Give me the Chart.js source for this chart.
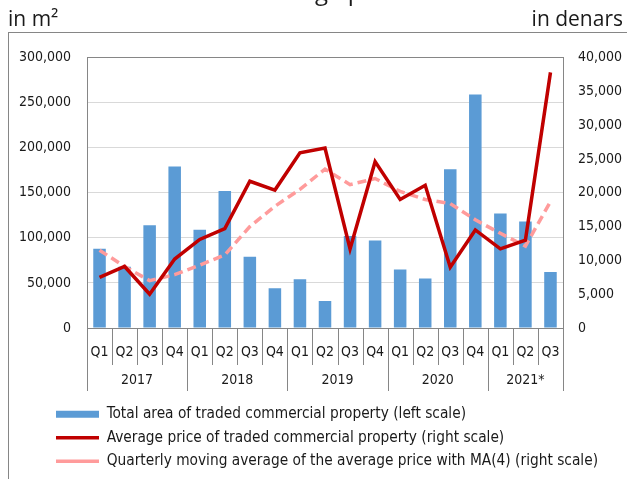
<!DOCTYPE html>
<html>
<head>
<meta charset="utf-8">
<title>Commercial property</title>
<script src="https://cdn.jsdelivr.net/npm/chart.js@4.4.1/dist/chart.umd.min.js"></script>
<style>
	html, body { margin: 0; padding: 0; background: #fff; }
	#wrap { position: relative; width: 627px; height: 479px; }
</style>
</head>
<body>
<div id="wrap"><canvas id="propertyChart"></canvas></div>
<script>
// Quarterly data, 2017 Q1 - 2021 Q3
const quarters = [
	'Q1', 'Q2', 'Q3', 'Q4',
	'Q1', 'Q2', 'Q3', 'Q4',
	'Q1', 'Q2', 'Q3', 'Q4',
	'Q1', 'Q2', 'Q3', 'Q4',
	'Q1', 'Q2', 'Q3',
];
const years = [ '2017', '2018', '2019', '2020', '2021*' ];
const quartersPerYear = [ 4, 4, 4, 4, 3 ];

// Total area (m2), left scale
const tradedArea = [
	88000, 68000, 114000, 179000,
	109000, 152000, 79000, 44000,
	54000, 30000, 102000, 97000,
	65000, 55000, 176000, 259000,
	127000, 118000, 62000,
];
// Average price (denars), right scale
const averagePrice = [
	7500, 9100, 5000, 10200,
	13100, 14700, 21700, 20400,
	25900, 26600, 11700, 24600,
	19000, 21100, 9000, 14500,
	11700, 13000, 37800,
];
// MA(4) of the average price, right scale
const movingAverage = [
	11500, 9100, 7000, 7900,
	9300, 10800, 15000, 18000,
	20500, 23500, 21200, 22100,
	20200, 19000, 18400, 16000,
	14000, 12100, 18700,
];

const leftTicks = [ 0, 50000, 100000, 150000, 200000, 250000, 300000 ];
const rightTicks = [ 0, 5000, 10000, 15000, 20000, 25000, 30000, 35000, 40000 ];

const fontFamily = '"DejaVu Sans Condensed", "DejaVu Sans", sans-serif';
const tickFont = { family: fontFamily, size: 14 };
const legendFont = { family: fontFamily, size: 15.3 };
const axisGray = '#868686';
const textColor = '#1a1a1a';

function fmt( v ) {
	return v.toLocaleString( 'en-US' );
}

// Frame, unit captions and the two-level category axis
const decorations = {
	id: 'decorations',
	afterLayout( chart ) {
		// indent the legend rows under the plot
		chart.legend.left += 47.8;
	},
	beforeDraw( chart ) {
		const { ctx } = chart;
		ctx.save();
		ctx.fillStyle = '#fff';
		ctx.fillRect( 0, 0, chart.width, chart.height );
		ctx.fillStyle = textColor;
		ctx.font = '24px "Open Sans", sans-serif';
		ctx.textBaseline = 'alphabetic';
		ctx.textAlign = 'left';
		ctx.fillText( 'Traded areas and the average prices', 8, -0.5 );
		ctx.font = '21px "Open Sans", sans-serif';
		ctx.fillText( 'in m\u00b2', 8, 26 );
		ctx.textAlign = 'right';
		ctx.fillText( 'in denars', 623, 26 );
		ctx.strokeStyle = axisGray;
		ctx.lineWidth = 1;
		ctx.strokeRect( 8.5, 32.5, 700, 600 );
		ctx.restore();
	},
	afterDraw( chart ) {
		const { ctx, chartArea } = chart;
		const x = chart.scales.x;
		const bottom = chartArea.bottom;
		const edge = ( i ) => {
			if ( i <= 0 ) return chartArea.left;
			if ( i >= quarters.length ) return chartArea.right;
			return ( x.getPixelForValue( i - 1 ) + x.getPixelForValue( i ) ) / 2;
		};
		ctx.save();
		ctx.strokeStyle = axisGray;
		ctx.lineWidth = 1;
		ctx.beginPath();
		for ( let i = 0; i <= quarters.length; i++ ) {
			const px = Math.round( edge( i ) ) + 0.5;
			ctx.moveTo( px, bottom );
			ctx.lineTo( px, bottom + 37 );
		}
		let start = 0;
		const yearEdges = [ 0 ];
		quartersPerYear.forEach( ( n ) => {
			start += n;
			yearEdges.push( start );
		} );
		yearEdges.forEach( ( i ) => {
			const px = Math.round( edge( i ) ) + 0.5;
			ctx.moveTo( px, bottom + 37 );
			ctx.lineTo( px, bottom + 63 );
		} );
		ctx.stroke();

		ctx.fillStyle = textColor;
		ctx.font = tickFont.size + 'px ' + tickFont.family;
		ctx.textAlign = 'center';
		ctx.textBaseline = 'middle';
		years.forEach( ( year, k ) => {
			const cx = ( edge( yearEdges[ k ] ) + edge( yearEdges[ k + 1 ] ) ) / 2;
			ctx.fillText( year, cx, bottom + 52 );
		} );
		ctx.restore();
	},
};

const ctx = document.getElementById( 'propertyChart' ).getContext( '2d' );

new Chart( ctx, {
	type: 'bar',
	data: {
		labels: quarters,
		datasets: [
			{
				label: 'Total area of traded commercial property (left scale)',
				data: tradedArea,
				yAxisID: 'y',
				backgroundColor: '#5b9bd5',
				borderWidth: 0,
				barPercentage: 0.5,
				categoryPercentage: 1,
				order: 3,
			},
			{
				type: 'line',
				label: 'Average price of traded commercial property (right scale)',
				data: averagePrice,
				yAxisID: 'y1',
				borderColor: '#c00000',
				backgroundColor: '#c00000',
				borderWidth: 3.5,
				pointRadius: 0,
				tension: 0,
				order: 1,
			},
			{
				type: 'line',
				label: 'Quarterly moving average of the average price with MA(4) (right scale)',
				data: movingAverage,
				yAxisID: 'y1',
				borderColor: '#ff9b9b',
				backgroundColor: '#ff9b9b',
				borderWidth: 3.5,
				borderDash: [ 9, 5 ],
				pointRadius: 0,
				tension: 0,
				order: 2,
			},
		],
	},
	options: {
		responsive: true,
		maintainAspectRatio: false,
		animation: false,
		layout: {
			padding: { top: 57.5, left: 0, right: 0, bottom: 0 },
		},
		plugins: {
			tooltip: { enabled: false },
			legend: {
				position: 'bottom',
				align: 'start',
				labels: {
					usePointStyle: true,
					pointStyleWidth: 43,
					boxHeight: 7,
					padding: 8.2,
					color: textColor,
					font: legendFont,
					generateLabels( chart ) {
						const items = Chart.defaults.plugins.legend.labels.generateLabels( chart );
						items.sort( ( a, b ) => a.datasetIndex - b.datasetIndex );
						items.forEach( ( item ) => {
							const isBar = item.datasetIndex === 0;
							item.pointStyle = isBar ? 'rect' : 'line';
							item.lineWidth = isBar ? 0 : 3.5;
						} );
						return items;
					},
				},
			},
		},
		scales: {
			x: {
				grid: { display: false },
				border: { display: true, color: axisGray },
				ticks: {
					color: textColor,
					font: tickFont,
					padding: 8,
					maxRotation: 0,
					autoSkip: false,
				},
				afterFit( scale ) {
					scale.height = 70.5;
				},
			},
			y: {
				position: 'left',
				min: 0,
				max: 300000,
				grid: {
					color: ( c ) => ( c.tick && c.tick.value === 300000 ? axisGray : '#d9d9d9' ),
					drawTicks: false,
				},
				border: { display: true, color: axisGray },
				afterBuildTicks( scale ) {
					scale.ticks = leftTicks.map( ( v ) => ( { value: v } ) );
				},
				ticks: {
					color: textColor,
					font: tickFont,
					padding: 16,
					callback: ( v ) => fmt( v ),
				},
				afterFit( scale ) {
					scale.width = 87;
				},
			},
			y1: {
				position: 'right',
				min: 0,
				max: 40000,
				grid: { drawOnChartArea: false, drawTicks: false },
				border: { display: true, color: axisGray },
				afterBuildTicks( scale ) {
					scale.ticks = rightTicks.map( ( v ) => ( { value: v } ) );
				},
				ticks: {
					color: textColor,
					font: tickFont,
					padding: 15,
					callback: ( v ) => fmt( v ),
				},
				afterFit( scale ) {
					scale.width = 64;
				},
			},
		},
	},
	plugins: [ decorations ],
} );
</script>
</body>
</html>
